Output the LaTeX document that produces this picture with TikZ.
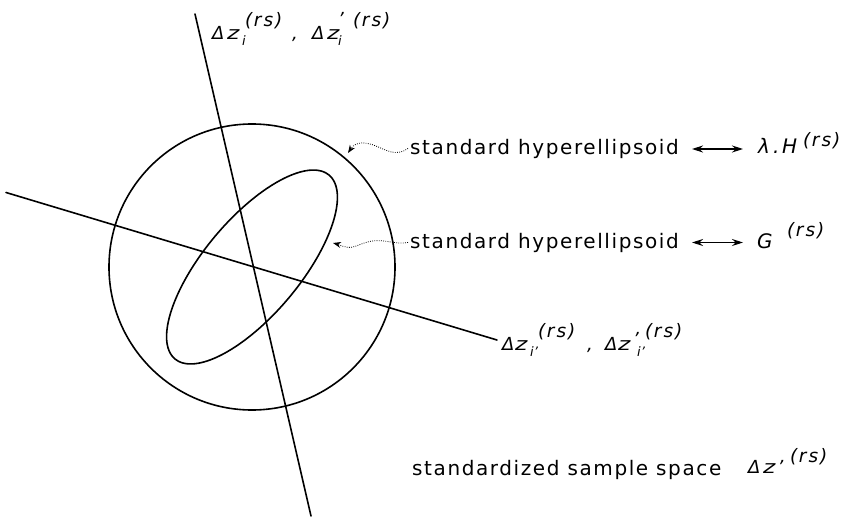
\documentclass[tikz,border=0pt]{standalone}
\usepackage{fontspec}
\usepackage{graphicx}
\setmainfont{DejaVu Sans}[LetterSpace=8]
\newfontfamily\mathf{DejaVu Sans Oblique}
\usetikzlibrary{arrows.meta}
\newcommand\bx[2]{\makebox[#1][l]{#2}}
\newcommand\msz{\fontsize{18}{18}\selectfont\mathf}
\newcommand\bsz{\fontsize{20}{20}\selectfont\mathf}
\newcommand\ssz{\fontsize{18.5}{18.5}\selectfont\mathf}
\newcommand\wz{\scalebox{1.3}[1]{z}}
\newcommand\subz[2]{\makebox[0pt][l]{\hspace{#1}\raisebox{-6pt}{\fontsize{13}{13}\selectfont\mathf #2}}}
\newcommand\rs{{\ssz(\hspace{1.5pt}r\hspace{2pt}s\hspace{2pt})}}
\tikzset{
  thick line/.style={line width=1.6pt, line cap=round},
  txt/.style={inner sep=0pt, anchor=base west, font=\fontsize{20}{20}\selectfont},
  mlabel/.style={inner sep=0pt, anchor=base west},
  wavy/.style={line width=0.8pt, dash pattern=on 0.8pt off 1.4pt, -{Stealth[length=8pt,width=6pt]}},
  dbl/.style={line width=#1, {Stealth[length=11pt,width=7pt]}-{Stealth[length=11pt,width=7pt]}}
}
\begin{document}
\begin{tikzpicture}[x=1pt,y=-1pt]
\useasboundingbox (0,0) rectangle (848,519);
% centre
\coordinate (c) at (252,267);
% axes
\coordinate (v1) at (195,14);
\coordinate (v2) at (311,516);
\coordinate (h1) at (6,192.5);
\coordinate (h2) at (497,340);
\draw[thick line] (v1) -- (v2);
\draw[thick line] (h1) -- (h2);
% outer circle
\draw[thick line] (c) circle[radius=143pt];
% inner ellipse (semi-axes 120 and 48, major axis at 50 deg)
\draw[thick line] plot[domain=0:355, samples=72, smooth cycle, variable=\t]
  ({252 + 77.1*cos(\t) + 36.8*sin(\t)}, {267 - 91.9*cos(\t) + 30.9*sin(\t)});
% axis labels
\node[mlabel] (lab1) at (212,40) {\msz\bx{15pt}{Δ}\bx{15pt}{\wz}\subz{0pt}{i}\hspace{3pt}\bx{40pt}{\raisebox{13pt}{\rs}}%
  \hspace{7pt}\bx{20pt}{,}\bx{15pt}{Δ}\bx{11pt}{\wz}\subz{0pt}{i}\makebox[0pt][l]{\raisebox{14pt}{’}}\hspace{15pt}\raisebox{13pt}{\rs}};
\node[mlabel] (lab2) at (502,350) {\msz\bx{13pt}{Δ}\bx{15pt}{\wz}\subz{0pt}{i’}\hspace{8pt}\bx{39pt}{\raisebox{13pt}{\rs}}%
  \hspace{10pt}\bx{18pt}{,}\bx{13pt}{Δ}\bx{15pt}{\wz}\subz{4pt}{i’}\makebox[0pt][l]{\raisebox{5pt}{’}}\hspace{12pt}\raisebox{13pt}{\rs}};
% right texts
\node[txt] (t1) at (410,154) {standard hyperellipsoid};
\node[txt] (t2) at (410,248) {standard hyperellipsoid};
\node[mlabel] (lh) at (758,153) {\bsz\bx{15pt}{λ}\bx{9pt}{.}\bx{21pt}{H}\raisebox{7pt}{\rs}};
\node[mlabel] (lg) at (757,248) {\bsz\bx{30pt}{G}\raisebox{12pt}{\rs}};
\node[txt] (t3) at (412,475) {standardized sample space};
\node[mlabel] (lz) at (748,473) {\msz\bx{15pt}{Δ}\bx{14.5pt}{\wz}\bx{12.5pt}{’}\raisebox{11pt}{\rs}};
% double arrows
\coordinate (d1a) at (692,149);
\coordinate (d1b) at (743,149);
\coordinate (d2a) at (692,242.5);
\coordinate (d2b) at (743,242.5);
\draw[dbl=1.3pt] (d1a) -- (d1b);
\draw[dbl=1pt] (d2a) -- (d2b);
% wavy dotted pointers
\coordinate (a1) at (348,153);
\coordinate (a2) at (333,243);
\draw[wavy] ([xshift=-2pt]t1.west) .. controls (396,157) and (386,150) .. (376,146)
  .. controls (366,142) and (356,141) .. (a1);
\draw[wavy] ([xshift=-2pt]t2.west) .. controls (396,245) and (385,239) .. (372,241)
  .. controls (360,243) and (354,249) .. (346,247) .. controls (341,246) and (337,244) .. (a2);
\end{tikzpicture}
\end{document}
